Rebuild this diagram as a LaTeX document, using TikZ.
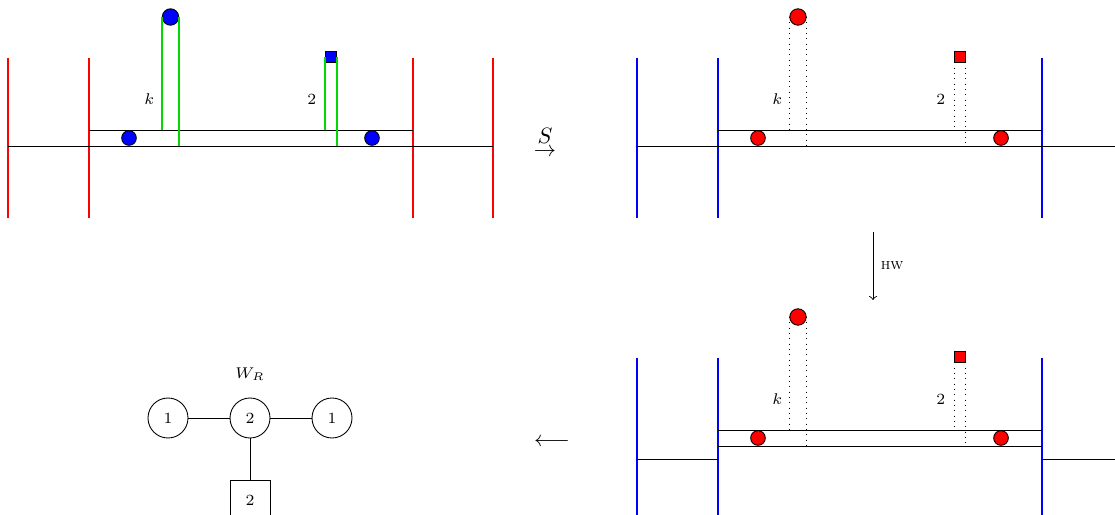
\documentclass[tikz,border=0pt]{standalone}
\usepackage{amsmath,amssymb}
\usetikzlibrary{graphs, positioning, shapes.geometric}

\begin{document}
\begin{tikzpicture}[x=0.45pt, y=-0.45pt, node distance=18.5pt,
		ball/.style={draw, circle, inner sep=0pt, minimum size=6.6pt},
		topball/.style={draw, circle, inner sep=0pt, minimum size=7.4pt},
		flav/.style={draw, rectangle, inner sep=0pt, minimum size=4.8pt},
		gauge/.style={draw, circle, inner sep=0pt, minimum size=18pt, font=\scriptsize},
		flavbox/.style={draw, rectangle, inner sep=0pt, minimum size=18pt, font=\scriptsize},
		wall/.style={line width=0.55pt},
		string/.style={line width=0.7pt, green!85!black},
		lbl/.style={font=\scriptsize}]
		\useasboundingbox (0,0) rectangle (1115,515);
		\clip (0,0) rectangle (1115,515);
		
		% before S
		\draw[wall, red] (8,58) -- (8,218);
		\draw[wall, red] (89,58) -- (89,218);
		\draw[wall, red] (413,58) -- (413,218);
		\draw[wall, red] (493,58) -- (493,218);
		\draw (8,146) -- (493,146);
		\draw (89,130) -- (413,130);
		\coordinate (a-up) at (89,130);
		\coordinate (a-dn) at (89,146);
		\node[ball, fill=blue]     (a-l) at (129,138) {};
		\node[ball, fill=blue]     (a-r) at (372,138) {};
		\node[topball, fill=blue]  (a-k) at (170.5,17)  {};
		\node[flav, fill=blue]     (a-2) at (331,57)  {};
		\draw[string] (a-k.west) -- (a-k.west |- a-up);
		\draw[string] (a-k.east) -- (a-k.east |- a-dn);
		\draw[string] (a-2.west) -- (a-2.west |- a-up);
		\draw[string] (a-2.east) -- (a-2.east |- a-dn);
		\node[lbl, left] (a-kl) at (162,99) {$k$};
		\node[lbl, left] (a-2l) at (324,99) {$2$};
		
		% after S
		\begin{scope}[shift={(629,0)}]
			\draw[wall, blue] (8,58) -- (8,218);
			\draw[wall, blue] (89,58) -- (89,218);
			\draw[wall, blue] (413,58) -- (413,218);
			\draw[wall, blue] (493,58) -- (493,218);
			\draw (8,146) -- (493,146);
			\draw (89,130) -- (413,130);
			\coordinate (b-up) at (89,130);
			\coordinate (b-dn) at (89,146);
			\node[ball, fill=red]     (b-l) at (129,138) {};
			\node[ball, fill=red]     (b-r) at (372,138) {};
			\node[topball, fill=red]  (b-k) at (169,17)  {};
			\node[flav, fill=red]     (b-2) at (331,57)  {};
			\draw[dotted] (b-k.west) -- (b-k.west |- b-up);
			\draw[dotted] (b-k.east) -- (b-k.east |- b-dn);
			\draw[dotted] (b-2.west) -- (b-2.west |- b-up);
			\draw[dotted] (b-2.east) -- (b-2.east |- b-dn);
			\node[lbl, left] (b-kl) at (161,99) {$k$};
			\node[lbl, left] (b-2l) at (324,99) {$2$};
		\end{scope}
		
		% after HW
		\begin{scope}[shift={(629,300)}]
			\draw[wall, blue] (8,58) -- (8,218);
			\draw[wall, blue] (89,58) -- (89,218);
			\draw[wall, blue] (413,58) -- (413,218);
			\draw[wall, blue] (493,58) -- (493,218);
			\draw (8,159) -- (89,159);
			\draw (413,159) -- (493,159);
			\draw (89,130) -- (413,130);
			\draw (89,146) -- (413,146);
			\coordinate (c-up) at (89,130);
			\coordinate (c-dn) at (89,146);
			\node[ball, fill=red]     (c-l) at (129,138) {};
			\node[ball, fill=red]     (c-r) at (372,138) {};
			\node[topball, fill=red]  (c-k) at (169,17)  {};
			\node[flav, fill=red]     (c-2) at (331,57)  {};
			\draw[dotted] (c-k.west) -- (c-k.west |- c-up);
			\draw[dotted] (c-k.east) -- (c-k.east |- c-dn);
			\draw[dotted] (c-2.west) -- (c-2.west |- c-up);
			\draw[dotted] (c-2.east) -- (c-2.east |- c-dn);
			\node[lbl, left] (c-kl) at (161,99) {$k$};
			\node[lbl, left] (c-2l) at (324,99) {$2$};
		\end{scope}
		
		% maps
		\node[inner sep=0pt] (s-to) at (545,152) {$\rightarrow$};
		\node[inner sep=0pt, above=1.5pt of s-to] (s-lbl) {$S$};
		\coordinate (hw-s) at (873,232);
		\coordinate (hw-e) at (873,300);
		\draw[->] (hw-s) -- node[lbl, right] {\textsc{hw}} (hw-e);
		\node (back) at (552,442) {$\longleftarrow$};
		
		% quiver
		\node[gauge]                  (g2)  at (250,418) {2};
		\node[gauge, left=of g2]      (g1l) {1};
		\node[gauge, right=of g2]     (g1r) {1};
		\node[flavbox, below=of g2]   (f2)  {2};
		\node[lbl, above=4pt of g2]   (wr)  {$W_R$};
		
		\graph{
			(g1l) -- (g2) -- (g1r);
			(g2) -- (f2);
		};
	\end{tikzpicture}
\end{document}
